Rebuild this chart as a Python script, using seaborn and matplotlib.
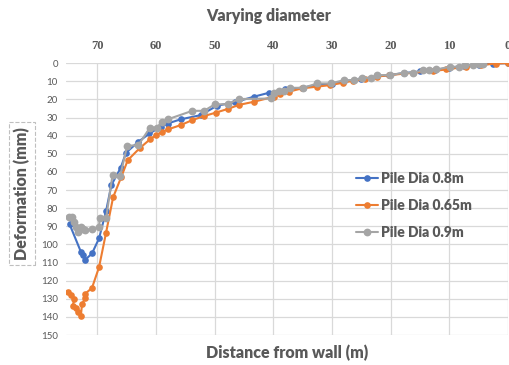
import matplotlib
matplotlib.use("Agg")
import matplotlib.pyplot as plt
import seaborn as sns
import pandas as pd

series_names = ["Pile Dia 0.8m", "Pile Dia 0.65m", "Pile Dia 0.9m"]

x_08 = [74.7, 72.8, 72.4, 72.1, 70.9, 69.7, 68.5, 67.6, 66.0, 65.1, 63.0, 61.1, 59.2, 58.0, 55.8,
        52.4, 49.6, 46.5, 43.3, 40.8, 38.0, 35.0, 32.5, 30.0, 28.0, 25.0, 22.3, 20.2, 17.8, 15.0,
        12.5, 10.0, 7.5, 5.0, 2.5, 0.0]
y_08 = [89, 104, 106, 108.6, 105, 96.7, 81.6, 67.3, 57.7, 49.4, 43.4, 38.8, 35.1, 33.3, 31,
        28.7, 23.5, 21.5, 18.5, 16.4, 14.5, 13.5, 12, 11.3, 10, 8.8, 7.3, 6.6, 5.5, 4.6,
        3.8, 2.5, 1.5, 0.8, 0.3, 0]

x_065 = [75.0, 74.4, 73.9, 74.2, 73.6, 73.3, 72.8, 72.6, 72.1, 72.1, 70.9, 69.7, 68.5, 67.3, 65.9,
         64.8, 62.8, 61.0, 60.0, 58.9, 58.0, 55.8, 53.8, 51.8, 49.8, 47.8, 45.8, 43.3, 39.9, 38.8,
         37.4, 35.1, 32.6, 30.3, 28.1, 26.4, 24.4, 22.4, 20.2, 16.2, 12.8, 10.6, 7.2, 4.6, 2.1, 0.0]
y_065 = [126, 128, 130, 134, 135, 137, 139.5, 133, 129.7, 127.3, 124, 112.6, 93.5, 74, 62.7,
         53.5, 47, 42, 39.7, 37.9, 36.6, 34.2, 31.4, 29.2, 27.3, 25.3, 23, 21.3, 18.5, 17.1,
         15.8, 13.9, 13, 12.1, 10.8, 9.7, 9, 7.5, 6.6, 5.3, 4.4, 3.5, 2, 1.1, 0.2, 0]

x_09 = [74.9, 74.3, 73.9, 73.6, 73.3, 72.8, 72.4, 72.1, 70.9, 69.7, 69.6, 68.5, 67.4, 66.1, 64.9,
        63.0, 61.0, 59.8, 59.0, 58.0, 53.8, 51.8, 50.0, 47.8, 45.9, 40.4, 39.9, 39.1, 38.2, 37.2,
        34.9, 32.5, 30.2, 28.0, 26.3, 24.8, 23.4, 22.3, 20.1, 17.8, 16.2, 14.4, 13.4, 12.2, 9.9,
        8.4, 7.3, 6.0, 4.9, 4.3]
y_09 = [84.7, 84.7, 87.5, 90.2, 93, 90.6, 91.7, 92, 91.7, 90.6, 85.6, 85.6, 61.7, 62.3, 45.6,
        45.2, 35.5, 35.5, 32.3, 31, 26.3, 26.3, 22.8, 22.6, 19.8, 19.5, 16.7, 15.3, 15.3, 13.6,
        13.6, 11.2, 11.2, 9.4, 9.4, 8.1, 8.1, 6.6, 6.6, 5.3, 5.3, 3.9, 3.9, 3.5, 2,
        2, 1.1, 1.1, 0.7, 0.5]

x_ticks = [70, 60, 50, 40, 30, 20, 10, 0]
y_ticks = list(range(0, 151, 10))

frames = []
for name, xs, ys in zip(series_names, [x_08, x_065, x_09], [y_08, y_065, y_09]):
    frames.append(pd.DataFrame({"dist": xs, "def": ys, "series": name}))
df = pd.concat(frames, ignore_index=True)

palette = {"Pile Dia 0.8m": "#4472C4", "Pile Dia 0.65m": "#ED7D31", "Pile Dia 0.9m": "#A5A5A5"}
msizes = {"Pile Dia 0.8m": 4.8, "Pile Dia 0.65m": 4.8, "Pile Dia 0.9m": 5.6}

sns.set_style("white")
plt.rcParams["font.family"] = ["Lato", "DejaVu Sans"]
fig = plt.figure(figsize=(5.09, 3.65), dpi=100)
ax = fig.add_axes([0.130, 0.082, 0.868, 0.745])

for name in series_names:
    sub = df[df["series"] == name]
    sns.lineplot(data=sub, x="dist", y="def", sort=False, ax=ax, color=palette[name],
                 marker="o", markersize=msizes[name], markeredgewidth=0, linewidth=1.5,
                 label=name, estimator=None)

ax.set_xlim(75.3, 0)
ax.set_ylim(150, 0)
ax.set_xticks(x_ticks)
ax.set_yticks(y_ticks)
ax.xaxis.tick_top()
ax.xaxis.set_label_position("bottom")
ax.grid(True, color="#D9D9D9", linewidth=0.9)
ax.set_axisbelow(True)
for s in ax.spines.values():
    s.set_visible(False)
ax.tick_params(axis="both", length=0)
ax.tick_params(axis="x", pad=8)
ax.tick_params(axis="y", pad=6)
for lab in ax.get_xticklabels():
    lab.set_fontfamily("Liberation Serif")
    lab.set_fontweight("bold")
    lab.set_fontsize(9)
    lab.set_color("#595959")
for lab in ax.get_yticklabels():
    lab.set_fontsize(7)
    lab.set_color("#595959")

ax.set_xlabel("Distance from wall (m)", fontsize=11.5, fontweight="heavy", color="#595959", labelpad=7)
ax.set_ylabel("")
fig.text(0.043, 0.47, "Deformation (mm)", rotation=90, ha="center", va="center",
         fontsize=11.5, fontweight="heavy", color="#595959",
         bbox=dict(boxstyle="square,pad=0.3", facecolor="none", edgecolor="#BFBFBF", linestyle="--", linewidth=0.8))
fig.text(0.527, 0.957, "Varying diameter", ha="center", va="center",
         fontsize=11.5, fontweight="heavy", color="#595959")

leg = ax.legend(loc="upper left", bbox_to_anchor=(0.628, 0.645), frameon=False,
                fontsize=10, labelspacing=1.0, handlelength=1.6, handletextpad=0.2)
for t in leg.get_texts():
    t.set_color("#595959")
    t.set_fontweight("heavy")

fig.savefig("out.png", dpi=100)
